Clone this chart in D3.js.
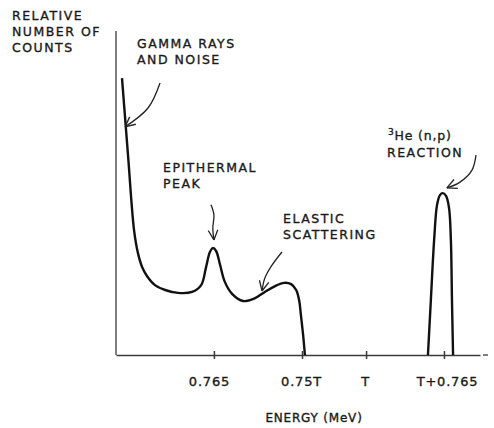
<!DOCTYPE html>
<html>
<head>
<meta charset="utf-8">
<script src="https://cdn.jsdelivr.net/npm/d3@7"></script>
<style>
  body { margin: 0; background: #fff; }
  text { font-family: "DejaVu Sans", sans-serif; fill: #1a1a1a; stroke: #1a1a1a; stroke-width: 0.35px; }
</style>
</head>
<body>
<div id="chart"></div>
<script>
// spectrum (arbitrary units: energy 0-100, counts 0-100)
var lowEnergy = [1.65, 3.3, 4.95, 6.0, 7.2, 8.5, 10.7, 13.5, 17.0, 20.9, 23.4, 24.7, 25.8, 26.6, 27.5, 28.6, 29.9, 31.9, 34.9, 38.2, 40.9, 43.7, 46.2, 48.1, 49.5, 50.3, 50.8, 51.4, 51.9];
var lowCounts = [85.2, 61.5, 38.5, 31.5, 27.0, 24.3, 21.5, 20.0, 19.1, 19.4, 21.5, 26.8, 31.7, 32.9, 32.0, 27.7, 22.5, 18.8, 16.6, 17.5, 19.4, 21.2, 22.2, 21.8, 20.0, 16.9, 12.3, 6.2, 0];
var heEnergy = [85.7, 86.5, 87.4, 88.2, 89.0, 89.8, 90.7, 91.5, 92.0, 92.3, 92.6];
var heCounts = [0, 16.9, 35.4, 46.2, 49.2, 49.8, 48.9, 45.2, 35.4, 16.9, 0];

var tickValues = [26.9, 51.1, 68.7, 90.1];
var tickLabels = ["0.765", "0.75T", "T", "T+0.765"];

// annotation arrows (same units)
var arrowGamma = [[12.1, 83.7], [8.8, 76], [2.5, 70.2]];
var arrowEpi = [[26.1, 46.2], [26.9, 43.1], [26.6, 39.1], [26.9, 35.4]];
var arrowElastic = [[45.6, 31.7], [42.9, 27.7], [40.9, 23.7], [40.1, 19.7]];
var arrowHe = [[98.9, 61.5], [97.8, 56.9], [94.5, 53.2], [90.9, 51.4]];

var width = 494, height = 428;
var margin = { top: 30, right: 14, bottom: 73, left: 116 };

var svg = d3.select("#chart")
    .append("svg")
    .attr("width", width)
    .attr("height", height);

var x = d3.scaleLinear().domain([0, 100]).range([margin.left, width - margin.right]);
var y = d3.scaleLinear().domain([0, 100]).range([height - margin.bottom, margin.top]);

var axisColor = "#3a3a3a";

// y axis (plain line, no ticks)
svg.append("line")
    .attr("x1", x(0)).attr("x2", x(0))
    .attr("y1", y(100) + 1).attr("y2", y(0))
    .attr("stroke", axisColor)
    .attr("stroke-width", 1.3);

// x axis
var xAxis = svg.append("g")
    .attr("transform", "translate(0," + y(0) + ")")
    .call(d3.axisBottom(x)
        .tickValues(tickValues)
        .tickSize(4)
        .tickSizeOuter(0)
        .tickFormat(function(d, i) { return tickLabels[i]; }));

xAxis.select(".domain").attr("stroke", axisColor).attr("stroke-width", 1.3);
xAxis.selectAll(".tick line")
    .attr("y1", -4)
    .attr("stroke", axisColor)
    .attr("stroke-width", 1.5);
xAxis.selectAll(".tick text")
    .attr("y", 22)
    .attr("dx", function(d, i) { return i === 0 ? -5 : (i === 3 ? 3 : -1); })
    .attr("font-size", "13px")
    .attr("font-family", "DejaVu Sans")
    .attr("fill", "#1a1a1a")
    .style("letter-spacing", "0.8px");

// little dash past the end of the axis
svg.append("line")
    .attr("x1", x(100) + 3).attr("x2", x(100) + 8)
    .attr("y1", y(0)).attr("y2", y(0))
    .attr("stroke", axisColor)
    .attr("stroke-width", 1.3);

var line = d3.line()
    .x(function(d) { return x(d[0]); })
    .y(function(d) { return y(d[1]); })
    .curve(d3.curveCatmullRom.alpha(0.5));

svg.append("path")
    .datum(d3.zip(lowEnergy, lowCounts))
    .attr("d", line)
    .attr("fill", "none")
    .attr("stroke", "#111")
    .attr("stroke-width", 2.4)
    .attr("stroke-linejoin", "round");

svg.append("path")
    .datum(d3.zip(heEnergy, heCounts))
    .attr("d", line)
    .attr("fill", "none")
    .attr("stroke", "#111")
    .attr("stroke-width", 2.4)
    .attr("stroke-linejoin", "round");

// arrows with open V heads
function drawArrow(pts) {
  svg.append("path")
      .datum(pts)
      .attr("d", line)
      .attr("fill", "none")
      .attr("stroke", "#222")
      .attr("stroke-width", 1.3);
  var a = pts[pts.length - 2], b = pts[pts.length - 1];
  var tx = x(b[0]), ty = y(b[1]);
  var ang = Math.atan2(ty - y(a[1]), tx - x(a[0]));
  [-0.45, 0.45].forEach(function(off) {
    svg.append("line")
        .attr("x1", tx).attr("y1", ty)
        .attr("x2", tx - 11 * Math.cos(ang + off))
        .attr("y2", ty - 11 * Math.sin(ang + off))
        .attr("stroke", "#222")
        .attr("stroke-width", 1.3);
  });
}
drawArrow(arrowGamma);
drawArrow(arrowEpi);
drawArrow(arrowElastic);
drawArrow(arrowHe);

// labels
function label(lines, lx, ly) {
  var t = svg.append("text")
      .attr("x", lx).attr("y", ly)
      .attr("font-size", "12.5px")
      .style("letter-spacing", "1.5px");
  lines.forEach(function(s, i) {
    t.append("tspan").attr("x", lx).attr("dy", i === 0 ? 0 : 16).text(s);
  });
  return t;
}

label(["RELATIVE", "NUMBER OF", "COUNTS"], 12, 20);
label(["GAMMA RAYS", "AND NOISE"], 137, 48);
label(["EPITHERMAL", "PEAK"], 163, 172);
label(["ELASTIC", "SCATTERING"], 283, 223);

var he = svg.append("text")
    .attr("x", 388).attr("y", 140)
    .attr("font-size", "12.5px")
    .style("letter-spacing", "0.8px");
he.append("tspan").attr("font-size", "9px").attr("dy", -5).text("3");
he.append("tspan").attr("dy", 5).text("He (n,p)");
label(["REACTION"], 387, 157);

svg.append("text")
    .attr("x", 314).attr("y", 422)
    .attr("text-anchor", "middle")
    .attr("font-size", "12px")
    .style("letter-spacing", "0.8px")
    .text("ENERGY (MeV)");
</script>
</body>
</html>
